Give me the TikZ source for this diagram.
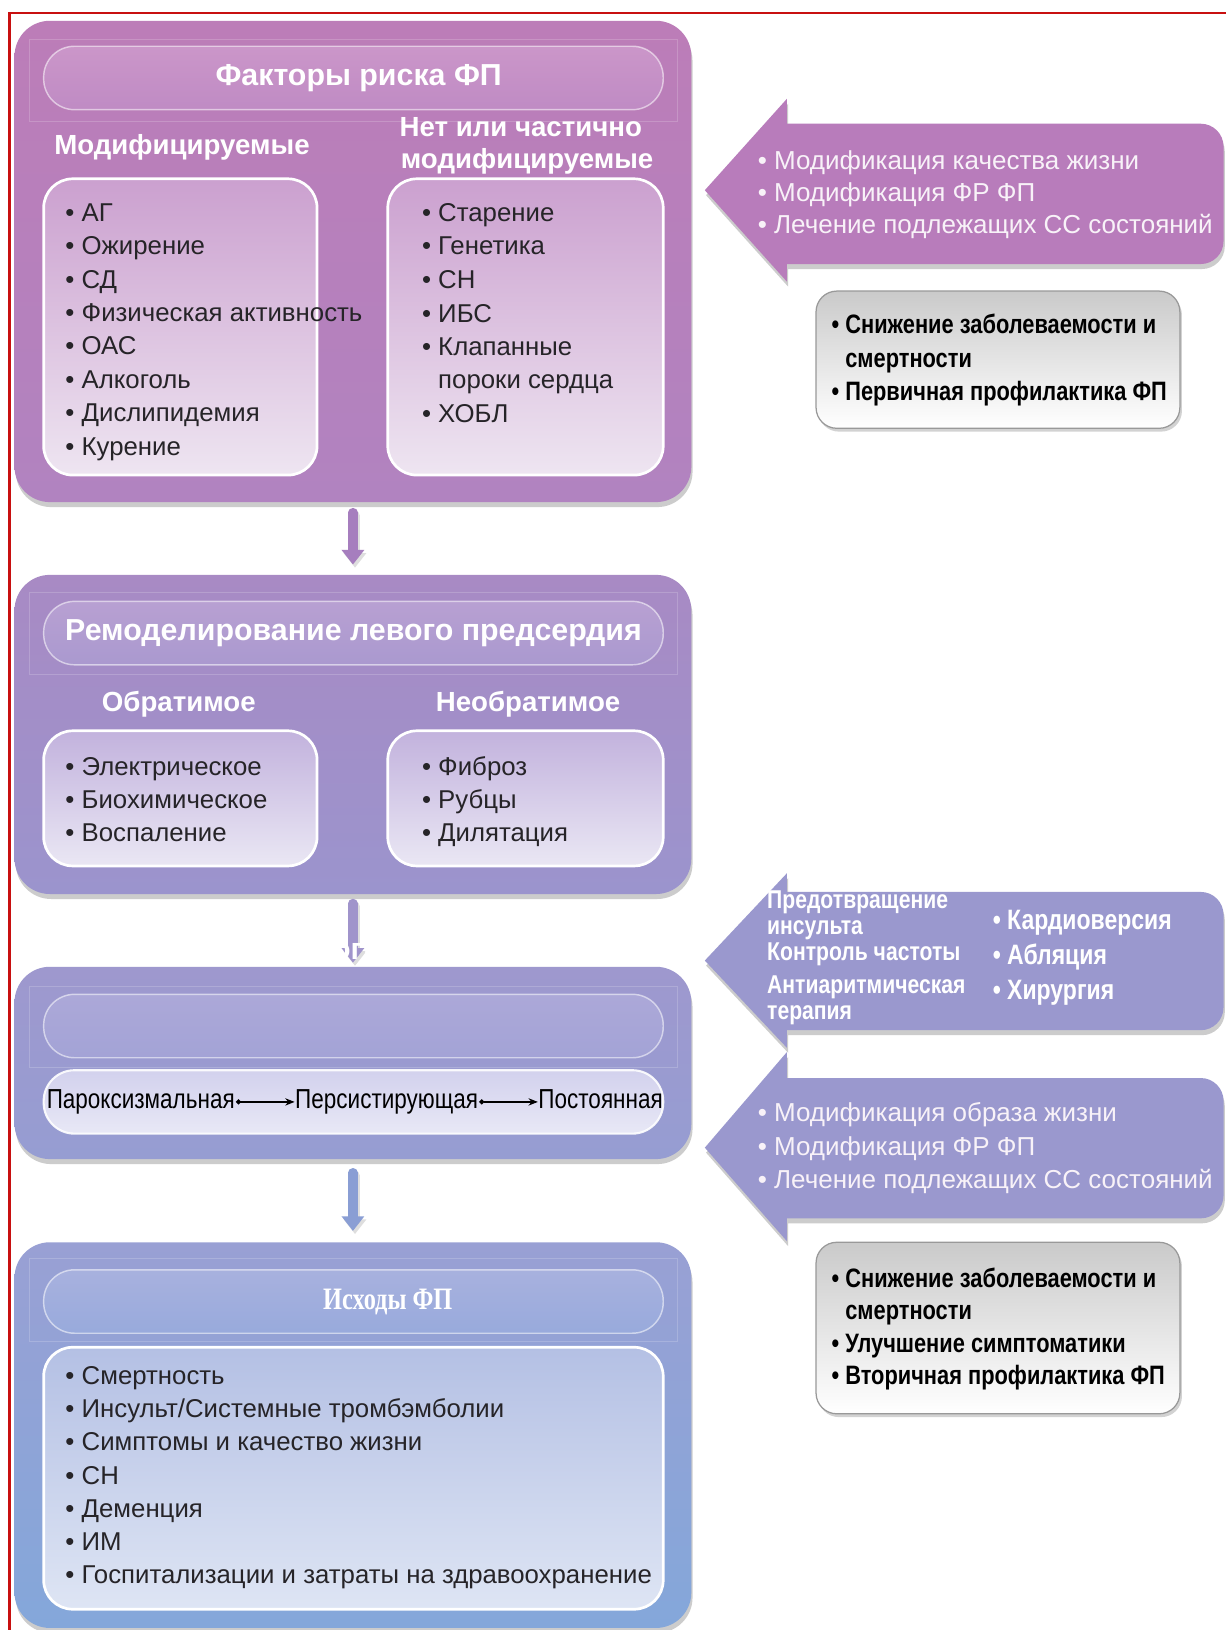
\documentclass[tikz,border=0pt]{standalone}
\usepackage{fontspec}
\setmainfont{Liberation Sans}
\newfontfamily\narrowfont[FakeStretch=0.82]{Liberation Sans}
\newfontfamily\serifnarrow[FakeStretch=0.78]{Liberation Serif}
\usetikzlibrary{arrows.meta,shadows,calc}

% palette
\definecolor{frameRed}{RGB}{200,16,16}
\definecolor{riskTop}{RGB}{188,125,184}
\definecolor{riskBot}{RGB}{177,131,192}
\definecolor{riskPillTop}{RGB}{203,150,201}
\definecolor{riskPillBot}{RGB}{191,139,196}
\definecolor{riskInTop}{RGB}{203,160,207}
\definecolor{riskInBot}{RGB}{238,229,241}
\definecolor{remTop}{RGB}{168,138,196}
\definecolor{remBot}{RGB}{155,148,205}
\definecolor{remPillTop}{RGB}{184,160,210}
\definecolor{remPillBot}{RGB}{170,153,207}
\definecolor{remInTop}{RGB}{194,178,221}
\definecolor{remInBot}{RGB}{234,231,244}
\definecolor{progTop}{RGB}{158,152,206}
\definecolor{progBot}{RGB}{150,157,210}
\definecolor{progPillTop}{RGB}{172,168,216}
\definecolor{progPillBot}{RGB}{163,163,214}
\definecolor{progRowTop}{RGB}{210,209,237}
\definecolor{progRowBot}{RGB}{232,232,246}
\definecolor{outTop}{RGB}{153,160,212}
\definecolor{outBot}{RGB}{132,167,218}
\definecolor{outPillTop}{RGB}{168,177,222}
\definecolor{outPillBot}{RGB}{152,170,220}
\definecolor{outInTop}{RGB}{180,192,228}
\definecolor{outInBot}{RGB}{222,229,244}
\definecolor{sideRisk}{RGB}{184,124,187}
\definecolor{sideProg}{RGB}{154,152,206}
\definecolor{stemA}{RGB}{166,126,190}
\definecolor{stemB}{RGB}{160,148,203}
\definecolor{stemC}{RGB}{138,158,212}
\definecolor{itemText}{RGB}{38,36,40}
\definecolor{lightText}{RGB}{248,242,248}
\definecolor{grayTop}{RGB}{202,202,202}
\definecolor{grayBot}{RGB}{255,255,255}

% downward connector between two stages: start point, tip point, colour
\newcommand\stagearrow[3]{%
  \draw[black,opacity=.13,line width=4.6pt,line cap=round] ($(#1)+(2,3)$) -- ($(#2)+(2,-10)$);
  \fill[black,opacity=.13] ($(#2)+(-9,-11)$) -- ($(#2)+(2,3)$) -- ($(#2)+(13,-11)$) -- cycle;
  \draw[#3,line width=4.4pt,line cap=round] (#1) -- ($(#2)+(0,-13)$);
  \fill[#3] ($(#2)+(-11,-14)$) -- (#2) -- ($(#2)+(11,-14)$) -- cycle;}

\begin{document}
\begin{tikzpicture}[x=0.5pt,y=-0.5pt,
  every node/.style={inner sep=0pt,outer sep=0pt},
  softshadow/.style={drop shadow={opacity=.3,shadow xshift=.6pt,shadow yshift=-2.4pt,fill=black!65}},
  bigbox/.style={rounded corners=17pt,minimum width=325.5pt,softshadow},
  band/.style={draw=white,draw opacity=.18,line width=.5pt},
  pill/.style={rounded corners=14.8pt,minimum width=298pt,minimum height=30.5pt,draw=white,draw opacity=.55,line width=.7pt},
  innerbox/.style={rounded corners=14pt,draw=white,line width=1.3pt},
  head/.style={font=\bfseries\fontsize{14.6}{16}\selectfont,text=white},
  subhead/.style={font=\bfseries\fontsize{13.3}{15}\selectfont,text=white},
  item/.style={anchor=west,font=\fontsize{12.4}{14}\selectfont,text=itemText,text height=1.5ex,text depth=.35ex},
  sideitem/.style={anchor=west,font=\fontsize{12.5}{14}\selectfont,text=lightText,text height=1.5ex,text depth=.35ex},
  narrowbold/.style={anchor=west,font=\narrowfont\bfseries\fontsize{12.8}{14}\selectfont,text height=1.5ex,text depth=.35ex},
  leftcol/.style={narrowbold,text=white,font=\narrowfont\bfseries\fontsize{12.4}{13}\selectfont},
  rightcol/.style={narrowbold,text=white,font=\narrowfont\bfseries\fontsize{13.5}{15}\selectfont},
  rowtext/.style={anchor=west,font=\narrowfont\fontsize{13.2}{14}\selectfont,text=black,text height=1.5ex,text depth=.35ex},
  graybox/.style={rounded corners=10pt,draw=black!40,line width=.6pt,top color=grayTop,bottom color=grayBot,minimum width=175pt,drop shadow={opacity=.35,shadow xshift=1pt,shadow yshift=-1.6pt}},
  stagelink/.style={line width=.6pt,{Circle[length=2.4pt]}-{Stealth[length=4.5pt,width=3.5pt]}},
]
\useasboundingbox (0,0) rectangle (1179,1568);
\fill[white] (0,0) rectangle (1179,1568);

% red frame (left and top edges)
\draw[frameRed,line width=1.4pt] (9,1568) -- (9,12.5) -- (1179,12.5);

% ---------- risk factors ----------
\node[bigbox,top color=riskTop,bottom color=riskBot,minimum height=231.5pt] (b1) at (339.5,251.5) {};
\draw[band] (28,38) rectangle (652,117);
\node[pill,top color=riskPillTop,bottom color=riskPillBot] (h1) at (340,75) {};
\node[head] (h1t) at (345,75) {Факторы риска ФП};
\node[subhead] (s1a) at (175,142) {Модифицируемые};
\node[subhead] (s1b) at (501,122) {Нет или частично};
\node[subhead] (s1c) at (507,155) {модифицируемые};
\node[innerbox,top color=riskInTop,bottom color=riskInBot,minimum width=131.5pt,minimum height=142.5pt] (m1) at (173.5,314.5) {};
\node[innerbox,top color=riskInTop,bottom color=riskInBot,minimum width=132.5pt,minimum height=142.5pt] (n1) at (505.5,314.5) {};
\foreach \t [count=\i from 0] in {АГ,Ожирение,СД,Физическая активность,ОАС,Алкоголь,Дислипидемия,Курение}
  \node[item] (m1-\i) at (63,{207+32.1*\i}) {•\ \t};
\node[item] (n1-0) at (406,207) {•\ Старение};
\node[item] (n1-1) at (406,239) {•\ Генетика};
\node[item] (n1-2) at (406,271) {•\ СН};
\node[item] (n1-3) at (406,304) {•\ ИБС};
\node[item] (n1-4) at (406,336) {•\ Клапанные};
\node[item] (n1-5) at (406,368) {\phantom{•\ }пороки сердца};
\node[item] (n1-6) at (406,400) {•\ ХОБЛ};

% ---------- atrial remodelling ----------
\node[bigbox,top color=remTop,bottom color=remBot,minimum height=153.5pt] (b2) at (339.5,706.5) {};
\draw[band] (28,570) rectangle (652,649);
\node[pill,top color=remPillTop,bottom color=remPillBot,head] (h2) at (340,609) {Ремоделирование левого предсердия};
\node[subhead] (s2a) at (172,677) {Обратимое};
\node[subhead] (s2b) at (508,677) {Необратимое};
\node[innerbox,top color=remInTop,bottom color=remInBot,minimum width=131.5pt,minimum height=65pt] (m2) at (173.5,768) {};
\node[innerbox,top color=remInTop,bottom color=remInBot,minimum width=132.5pt,minimum height=65pt] (n2) at (505.5,768) {};
\foreach \t [count=\i from 0] in {Электрическое,Биохимическое,Воспаление}
  \node[item] (m2-\i) at (63,{740+31.5*\i}) {•\ \t};
\foreach \t [count=\i from 0] in {Фиброз,Рубцы,Дилятация}
  \node[item] (n2-\i) at (406,{740+31.5*\i}) {•\ \t};

% ---------- progression ----------
\node[bigbox,top color=progTop,bottom color=progBot,minimum height=92.5pt] (b3) at (339.5,1022.5) {};
\draw[band] (28,949) rectangle (652,1027);
\node[pill,top color=progPillTop,bottom color=progPillBot] (h3) at (340,987) {};
\node[pill,top color=progRowTop,bottom color=progRowBot,draw opacity=.9,line width=1pt] (r3) at (340,1060) {};
\node[rowtext] (p1) at (45,1060) {Пароксизмальная};
\node[rowtext] (p2) at (284,1060) {Персистирующая};
\node[rowtext] (p3) at (518,1060) {Постоянная};
\draw[stagelink] ([xshift=.6pt]p1.east) -- ([xshift=-.3pt]p2.west);
\draw[stagelink] ([xshift=.6pt]p2.east) -- ([xshift=-.3pt]p3.west);

% ---------- outcomes ----------
\node[bigbox,top color=outTop,bottom color=outBot,minimum height=185.5pt] (b4) at (339.5,1380.5) {};
\draw[band] (28,1211) rectangle (652,1290);
\node[pill,top color=outPillTop,bottom color=outPillBot] (h4) at (340,1252) {};
\node[font=\serifnarrow\bfseries\fontsize{15}{17}\selectfont,text=white] (h4t) at (373,1252) {Исходы ФП};
\node[innerbox,top color=outInTop,bottom color=outInBot,minimum width=298pt,minimum height=126pt] (o4) at (340,1422) {};
\foreach \t [count=\i from 0] in {Смертность,Инсульт/Системные тромбэмболии,Симптомы и качество жизни,СН,Деменция,ИМ,Госпитализации и затраты на здравоохранение}
  \node[item] (o4-\i) at (63,{1326+31.85*\i}) {•\ \t};

% ---------- flow between stages ----------
\coordinate (d1s) at ($(b1.south)+(0,10)$);
\coordinate (d1e) at ($(b2.north)+(0,-10)$);
\coordinate (d2s) at ($(b2.south)+(0,9)$);
\coordinate (d2e) at ($(b3.north)+(0,-4)$);
\coordinate (d3s) at ($(b3.south)+(0,13)$);
\coordinate (d3e) at ($(b4.north)+(0,-11)$);
\stagearrow{d1s}{d1e}{stemA}
\stagearrow{d2s}{d2e}{stemB}
\node[head] (ghost) at (362,916) {Развитие и прогрессирование ФП};
\stagearrow{d3s}{d3e}{stemC}

% ---------- primary prevention ----------
\fill[sideRisk,softshadow] (678,183) -- (757,95) -- (757,119) -- (1100,119)
  [rounded corners=11pt] -- (1177,119) -- (1177,254) -- (1100,254) [sharp corners]
  -- (757,254) -- (757,271) -- cycle;
\node[sideitem] (a1-0) at (729,157) {•\ Модификация качества жизни};
\node[sideitem] (a1-1) at (729,188) {•\ Модификация ФР ФП};
\node[sideitem] (a1-2) at (729,219) {•\ Лечение подлежащих СС состояний};

\node[graybox,minimum height=66pt] (g1) at (960,346) {};
\node[narrowbold] (g1-0) at (800,315) {•\ Снижение заболеваемости и};
\node[narrowbold] (g1-1) at (800,347) {\phantom{•\ }смертности};
\node[narrowbold] (g1-2) at (800,379) {•\ Первичная профилактика ФП};

% ---------- rhythm management ----------
\fill[sideProg,softshadow] (678,924) -- (757,840) -- (757,858) -- (1100,858)
  [rounded corners=11pt] -- (1177,858) -- (1177,991) -- (1100,991) [sharp corners]
  -- (757,991) -- (757,1008) -- cycle;
\node[leftcol] (a2-0) at (738,868) {Предотвращение};
\node[leftcol] (a2-1) at (738,893) {инсульта};
\node[leftcol] (a2-2) at (738,918) {Контроль частоты};
\node[leftcol] (a2-3) at (738,950) {Антиаритмическая};
\node[leftcol] (a2-4) at (738,975) {терапия};
\node[rightcol] (a2-5) at (955,888) {•\ Кардиоверсия};
\node[rightcol] (a2-6) at (955,922) {•\ Абляция};
\node[rightcol] (a2-7) at (955,955) {•\ Хирургия};

% ---------- secondary prevention ----------
\fill[sideProg,softshadow] (678,1104) -- (757,1012) -- (757,1037) -- (1100,1037)
  [rounded corners=11pt] -- (1177,1037) -- (1177,1172) -- (1100,1172) [sharp corners]
  -- (757,1172) -- (757,1194) -- cycle;
\node[sideitem] (a3-0) at (729,1073) {•\ Модификация образа жизни};
\node[sideitem] (a3-1) at (729,1105) {•\ Модификация ФР ФП};
\node[sideitem] (a3-2) at (729,1137) {•\ Лечение подлежащих СС состояний};

\node[graybox,minimum height=82.5pt] (g2) at (960,1277.5) {};
\node[narrowbold] (g2-0) at (800,1232) {•\ Снижение заболеваемости и};
\node[narrowbold] (g2-1) at (800,1263) {\phantom{•\ }смертности};
\node[narrowbold] (g2-2) at (800,1295) {•\ Улучшение симптоматики};
\node[narrowbold] (g2-3) at (800,1326) {•\ Вторичная профилактика ФП};
\end{tikzpicture}
\end{document}
